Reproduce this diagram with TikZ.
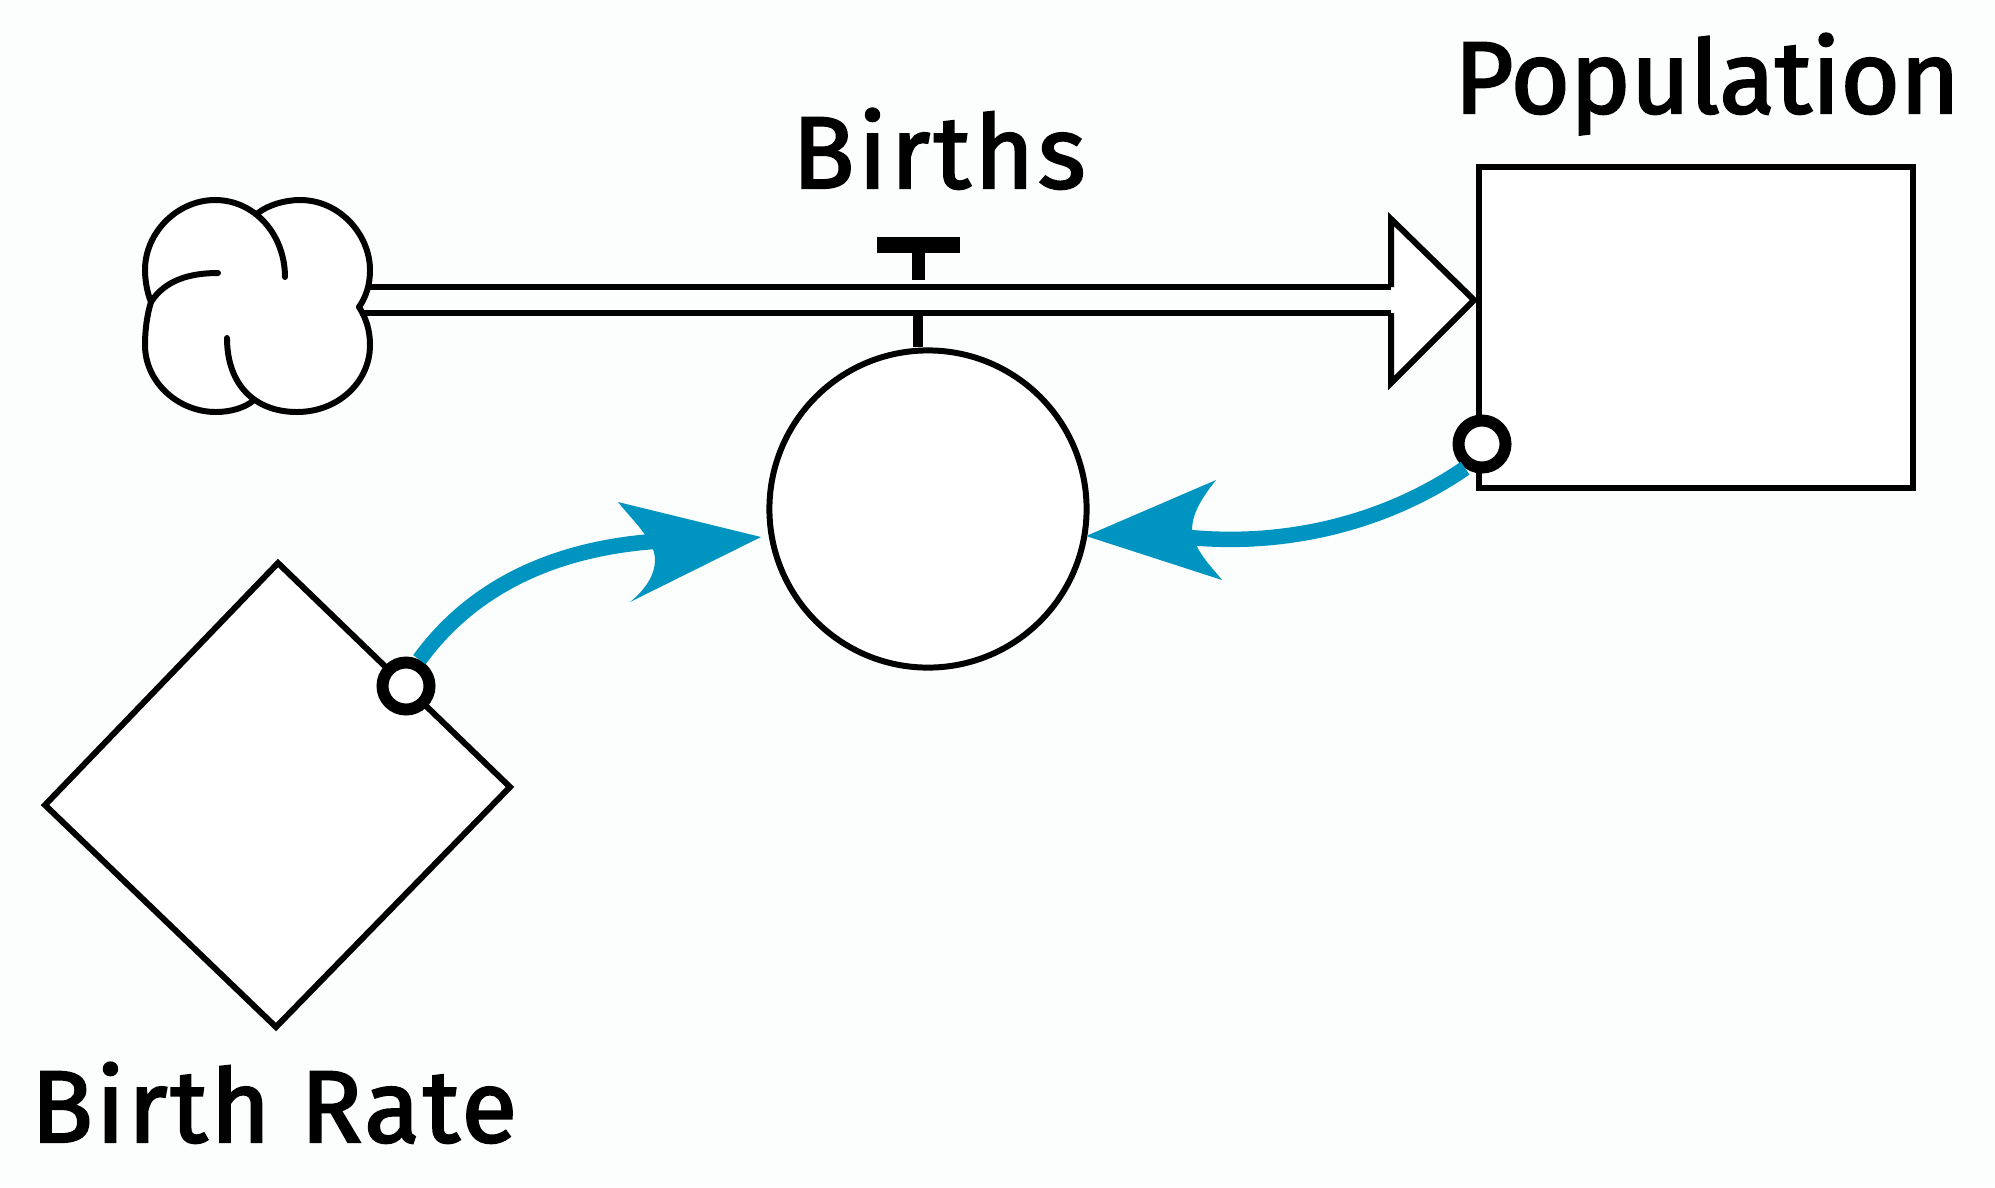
\documentclass[tikz,border=0pt]{standalone}
\usepackage{fontspec}
\newfontfamily\handfont[FakeBold=2.2]{Fira Sans}
\newfontfamily\handfontA[FakeBold=2.2,LetterSpace=3.7]{Fira Sans}
\newfontfamily\handfontB[FakeBold=2.2,LetterSpace=3.1]{Fira Sans}
\setmainfont{Fira Sans}
\usetikzlibrary{calc}
\definecolor{bgc}{HTML}{FCFEFE}
\definecolor{linkc}{HTML}{0095C0}
\tikzset{
  px/.style={x=0.01cm,y=-0.01cm},
  outline/.style={draw=black,line width=1.7pt,fill=white,line join=miter},
  pipe/.style={draw=black,line width=1.95pt},
  port/.style={circle,draw=black,line width=3.4pt,fill=white,minimum size=0.47cm,inner sep=0pt},
  link/.style={draw=linkc,line width=4.4pt},
  headc/.style={fill=linkc,draw=none},
  lab/.style={text=black,inner sep=0pt,anchor=base},
}
\begin{document}
\begin{tikzpicture}[px]
\useasboundingbox[fill=bgc] (0,0) rectangle (1995,1187);
% cloud
\coordinate (cloudT) at (258,213);
\coordinate (cloudB) at (254,400);
\coordinate (cloudL) at (151,302);
\coordinate (cloudR) at (359,307);
\fill[white] (cloudL) .. controls (147,292) and (145,280) .. (145,270) .. controls (145,232) and (178,200) .. (215,200) .. controls (232,200) and (247,205) .. (cloudT) .. controls (268,205) and (285,200) .. (300,200) .. controls (340,200) and (370,235) .. (370,270) .. controls (370,285) and (366,297) .. (cloudR) .. controls (366,318) and (370,330) .. (370,345) .. controls (370,382) and (338,412) .. (297,412) .. controls (280,412) and (265,408) .. (cloudB) .. controls (245,408) and (230,412) .. (216,412) .. controls (178,412) and (145,382) .. (145,345) .. controls (145,330) and (147,315) .. (cloudL);
\draw[outline,fill=none,line cap=round]
  (cloudL) .. controls (147,292) and (145,280) .. (145,270) .. controls (145,232) and (178,200) .. (215,200) .. controls (255,200) and (285,235) .. (285,277);
\draw[outline,fill=none,line cap=round]
  (cloudT) .. controls (268,205) and (285,200) .. (300,200) .. controls (340,200) and (370,235) .. (370,270) .. controls (370,285) and (366,297) .. (cloudR);
\draw[outline,fill=none,line cap=round]
  (cloudR) .. controls (366,318) and (370,330) .. (370,345) .. controls (370,382) and (338,412) .. (297,412) .. controls (255,412) and (227,385) .. (227,338);
\draw[outline,fill=none,line cap=round]
  (218,273) .. controls (190,273) and (165,280) .. (cloudL) .. controls (147,315) and (145,330) .. (145,345) .. controls (145,382) and (178,412) .. (216,412) .. controls (230,412) and (245,408) .. (cloudB);
% auxiliaries
\node[circle,draw=black,line width=1.7pt,fill=white,minimum size=3.17cm,inner sep=0pt] (births) at (928,509) {};
% valve
\coordinate (stemTop) at (918,245);
\coordinate (stemPipe) at (918,280);
\coordinate (stemLow) at (918,314);
\draw[line width=3.7pt] (stemTop) -- (stemPipe);
\draw[line width=3.1pt] (stemLow) -- (births.north -| stemLow);
\draw[line width=4.5pt] (877,245) -- (960,245);
% pipe
\coordinate (pipeU0) at (368,287);
\coordinate (pipeL0) at (362,313);
\coordinate (hbU) at (1391,287);
\coordinate (hbL) at (1391,313);
\coordinate (hT) at (1391,219);
\coordinate (hB) at (1391,383);
\coordinate (hTip) at (1474,300);
% stock
\node[draw=black,line width=1.7pt,fill=white,minimum width=4.34cm,minimum height=3.21cm,inner sep=0pt] (stock) at (1696,327.5) {};
% rate
\coordinate (dT) at (278,563);
\coordinate (dR) at (510,787);
\coordinate (dB) at (276,1027);
\coordinate (dL) at (45,805);
\draw[outline] (dT) -- (dR) -- (dB) -- (dL) -- cycle;
% flow
\draw[pipe] (pipeU0) -- (hbU);
\draw[pipe] (pipeL0) -- (hbL);
\draw[draw=black,line width=1.7pt,line join=miter,fill=white] (hbU) -- (hT) -- (hTip) -- (hB) -- (hbL);
% ports
\node[port] (p2) at (406,686) {};
\node[port] (p1) at (1482,444) {};
% links
\coordinate (a1end) at (660,541);
\coordinate (a2end) at (1185,537);
\draw[link] (p2.63) .. controls (470,590) and (550,548) .. (a1end);
\draw[link] (p1.-125) .. controls (1390,520) and (1290,548) .. (a2end);
\fill[headc] (761,537) -- (618,502) .. controls (632,520) and (655,540) .. (655,560) .. controls (655,575) and (645,590) .. (630,602) -- cycle;
\fill[headc] (1086,536) -- (1216,480) .. controls (1200,500) and (1192,515) .. (1192,530) .. controls (1194,550) and (1210,565) .. (1222,580) -- cycle;
% labels
\node[lab] (tb) at (939,188) {\fontsize{29pt}{29pt}\selectfont\handfontA Births};
\node[lab] (tp) at (1707,113) {\fontsize{29pt}{29pt}\selectfont\handfont Population};
\node[lab] (tr) at (274,1142) {\fontsize{29pt}{29pt}\selectfont\handfontB Birth Rate};
\end{tikzpicture}
\end{document}
